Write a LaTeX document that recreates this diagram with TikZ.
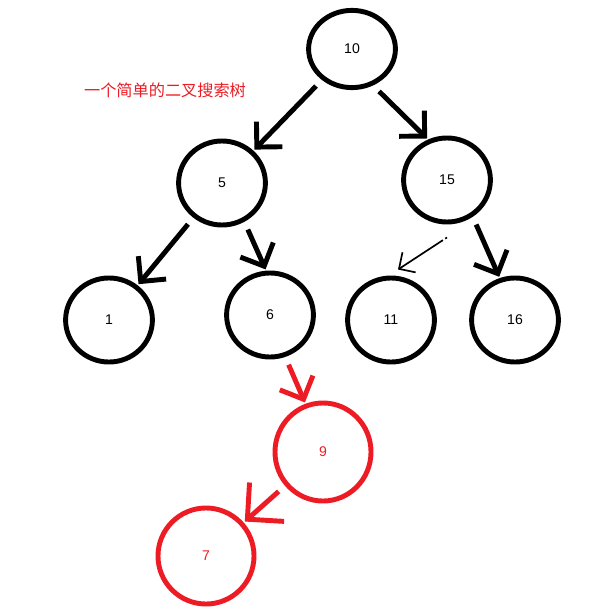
\documentclass[tikz,border=0pt]{standalone}
\usepackage{fontspec}
\setmainfont{Liberation Sans}
\newfontfamily\cjkfont{Noto Sans CJK SC}
\usepackage{xcolor}
\usetikzlibrary{arrows.meta,shapes.geometric}

\definecolor{paintred}{RGB}{237,28,36}

\begin{document}
\begin{tikzpicture}[
  x=0.025cm, y=-0.025cm,
  key/.style={draw, ellipse, line width=3.5pt, minimum width=2.17cm, minimum height=2.1cm, font=\normalsize, inner sep=0pt},
  newkey/.style={key, draw=paintred, text=paintred, minimum width=2.4cm, minimum height=2.45cm},
  arr/.style={-{Straight Barb[length=4.5mm, width=9mm]}, line width=3.5pt, shorten <=6pt, shorten >=1pt},
  bigarr/.style={-{Straight Barb[length=6.5mm, width=13mm]}, line width=3.5pt, shorten <=6pt, shorten >=1pt},
  thinarr/.style={-{Straight Barb[length=3mm, width=6mm]}, line width=1.2pt, dash pattern=on 1.5pt off 2pt on 80pt},
  title/.style={text=paintred, font=\cjkfont\fontsize{11.5}{14}\selectfont}
]

\useasboundingbox (0,0) rectangle (589,610);

\node[title] (caption) at (165,90) {一个简单的二叉搜索树};

\node[key, minimum height=1.93cm] (n10) at (352,49) {10};
\node[key] (n5) at (222,183) {5};
\node[key] (n15) at (447,180) {15};
\node[key] (n1) at (109,320) {1};
\node[key] (n6) at (270,315) {6};
\node[key] (n11) at (391,320) {11};
\node[key] (n16) at (515,320) {16};
\node[newkey] (n9) at (323,452) {9};
\node[newkey, minimum height=2.4cm] (n7) at (206,556) {7};

\draw[arr] (n10) -- (n5);
\draw[arr] (n10.300) -- (n15.115);
\draw[arr] (n5) -- (n1);
\draw[arr] (n5.300) -- (n6.95);
\draw[thinarr] ([shift={(0,13)}]n15.south) -- ([shift={(7,-6)}]n11.north);
\draw[arr] (n15.305) -- (n16.110);

\draw[arr, paintred] (n6.290) -- (n9.110);
\draw[bigarr, paintred] (n9) -- (n7);

\end{tikzpicture}
\end{document}
